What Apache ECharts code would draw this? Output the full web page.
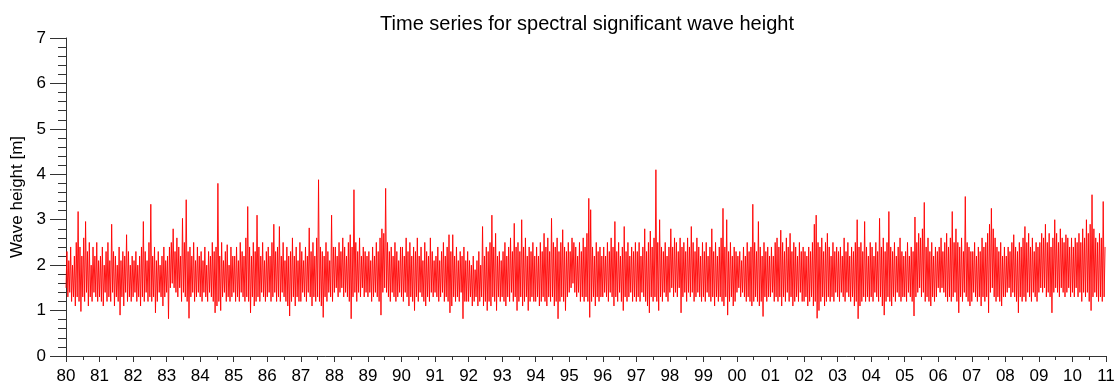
<!DOCTYPE html>
<html>
<head>
<meta charset="utf-8">
<script src="https://cdn.jsdelivr.net/npm/echarts@6/dist/echarts.min.js"></script>
<style>
html,body{margin:0;padding:0;background:#fff;}
#chart{width:1118px;height:387px;}
</style>
</head>
<body>
<div id="chart"></div>
<script>
// Tick labels / axis range
const startYear = 1980;
const endYear = 2011;
const yTicks = [0, 1, 2, 3, 4, 5, 6, 7];

// Significant wave height [m], 36 samples per year
const y1980 = [1.5,2.3,1.3,2.1,1.4,2.4,1.2,2.0,1.3,2.2,1.1,2.5,1.3,3.18,1.2,2.4,0.98,2.2,1.3,2.6,1.2,2.96,1.4,2.3,1.1,2.5,1.3,2.0,1.2,2.4,1.4,2.2,1.3,2.5,1.2,2.1];
const y1981 = [1.3,2.2,1.2,2.4,1.1,2.0,1.4,2.3,1.2,2.5,1.3,2.1,1.2,2.9,1.4,2.3,1.1,2.2,1.3,2.0,1.2,2.4,0.9,2.1,1.3,2.3,1.1,2.2,1.4,2.67,1.2,2.3,1.3,2.0,1.2,2.2];
const y1982 = [1.3,2.1,1.4,2.3,1.2,2.0,1.3,2.2,1.1,2.4,1.3,2.96,1.2,2.3,1.4,2.1,1.2,2.5,1.3,3.34,1.2,2.2,1.3,2.4,0.95,2.1,1.2,2.3,1.4,2.0,1.3,2.2,1.1,2.4,1.3,2.1];
const y1983 = [1.4,2.2,0.82,2.4,1.5,2.5,1.6,2.8,1.5,2.3,1.4,2.6,1.3,2.4,1.5,2.2,1.2,3.03,1.4,2.5,1.3,3.44,1.2,2.3,0.83,2.4,1.3,2.2,1.4,2.5,1.2,2.1,1.3,2.4,1.4,2.2];
const y1984 = [1.3,2.3,1.2,2.1,1.4,2.4,1.3,2.0,1.2,2.3,1.4,2.2,1.3,2.5,1.2,2.3,0.95,2.4,1.1,3.8,1.2,2.2,1.0,2.5,1.3,2.1,1.4,2.3,1.2,2.45,1.3,2.0,1.2,2.4,1.3,2.2];
const y1985 = [1.4,2.2,1.2,2.4,1.3,2.1,1.2,2.5,1.4,2.3,1.3,2.2,1.2,2.6,1.3,3.29,1.2,2.4,0.95,2.2,1.3,2.5,1.1,2.3,1.2,3.1,1.3,2.4,1.2,2.2,1.4,2.5,1.3,2.1,1.2,2.3];
const y1986 = [1.3,2.4,1.4,2.2,1.2,2.5,1.3,2.9,1.4,2.3,1.2,2.4,1.3,2.85,1.2,2.2,1.4,2.5,1.3,2.1,1.2,2.4,1.1,2.2,0.88,2.3,1.2,2.6,1.3,2.2,1.1,2.4,1.3,2.1,1.2,2.5];
const y1987 = [1.2,2.3,1.4,2.1,1.3,2.4,1.2,2.2,1.4,2.82,1.3,2.3,1.1,2.5,1.3,2.2,1.2,2.6,1.3,3.88,1.2,2.4,1.1,2.3,0.85,2.2,1.3,2.5,1.2,2.3,1.4,2.1,1.3,3.1,1.2,2.4];
const y1988 = [1.4,2.4,1.5,2.2,1.3,2.5,1.4,2.3,1.5,2.6,1.3,2.4,1.4,2.2,1.3,2.5,1.2,2.67,0.82,2.4,1.3,3.66,1.4,2.5,1.2,2.3,1.4,2.6,1.3,2.2,1.5,2.4,1.3,2.3,1.4,2.2];
const y1989 = [1.3,2.3,1.4,2.1,1.2,2.4,1.3,2.2,1.4,2.5,1.3,2.3,1.2,2.6,0.9,2.8,1.4,2.7,1.5,3.69,1.4,2.5,1.3,2.3,1.2,2.4,1.4,2.2,1.3,2.5,1.2,2.3,1.3,2.1,1.4,2.4];
const y1990 = [1.3,2.4,1.2,2.2,1.4,2.6,1.3,2.3,1.1,2.5,1.3,2.2,1.2,2.4,1.0,2.3,1.3,2.6,1.2,2.2,1.4,2.4,1.3,2.1,1.2,2.5,1.1,2.3,1.3,2.2,1.2,2.6,1.4,2.3,1.3,2.1];
const y1991 = [1.4,2.2,1.3,2.4,1.2,2.1,1.3,2.3,1.4,2.5,1.2,2.2,1.3,2.4,1.2,2.67,0.95,2.3,1.1,2.67,1.3,2.2,1.2,2.4,1.3,2.1,1.2,2.3,1.4,2.2,0.82,2.4,1.2,2.1,1.2,2.3];
const y1992 = [1.2,2.1,1.3,2.0,1.1,2.2,1.2,1.9,1.3,2.1,1.1,2.3,1.2,2.0,1.3,2.85,1.1,2.2,1.2,2.4,1.0,2.3,1.2,2.5,1.1,3.1,1.3,2.4,1.2,2.7,1.0,2.2,1.3,2.3,1.2,2.1];
const y1993 = [1.3,2.3,1.2,2.5,1.1,2.2,1.3,2.4,1.2,2.6,1.4,2.3,1.2,2.92,1.3,2.4,1.0,2.5,1.2,2.3,1.3,3.0,1.1,2.4,1.2,2.6,1.3,2.2,1.0,2.4,1.2,2.3,1.3,2.5,1.2,2.2];
const y1994 = [1.2,2.4,1.3,2.2,1.1,2.5,1.2,2.3,1.3,2.7,1.2,2.4,1.1,2.6,1.3,2.3,1.2,3.03,1.3,2.5,1.1,2.4,1.2,2.6,0.82,2.3,1.2,2.5,1.3,2.78,1.2,2.4,1.0,2.3,1.3,2.5];
const y1995 = [1.4,2.3,1.5,2.6,1.6,2.5,1.4,2.4,1.3,2.2,1.4,2.5,1.2,2.3,1.3,2.6,1.2,2.4,1.3,2.7,1.2,3.47,0.85,3.22,1.2,2.4,1.3,2.2,1.1,2.5,1.3,2.3,1.2,2.4,1.3,2.2];
const y1996 = [1.3,2.4,1.4,2.2,1.3,2.5,1.2,2.3,1.4,2.6,1.3,2.4,1.1,2.96,1.3,2.3,1.2,2.5,1.4,2.2,1.2,2.4,1.0,2.85,1.3,2.3,1.2,2.5,1.3,2.2,1.4,2.4,1.2,2.3,1.3,2.5];
const y1997 = [1.2,2.3,1.3,2.5,1.2,2.2,1.4,2.4,1.3,2.8,1.2,2.3,1.1,2.5,0.95,2.75,1.3,2.4,1.2,2.6,1.3,4.1,1.2,2.5,1.0,3.0,1.3,2.4,1.2,2.3,1.4,2.5,1.3,2.2,1.2,2.4];
const y1998 = [1.4,2.8,1.5,2.4,1.3,2.6,1.4,2.5,1.3,2.3,1.5,2.6,0.95,2.4,1.3,2.5,1.4,2.3,1.2,2.6,1.4,2.4,1.3,2.85,1.4,2.5,1.2,2.3,1.3,2.6,1.4,2.4,1.3,2.2,1.2,2.5];
const y1999 = [1.3,2.3,1.2,2.5,1.4,2.2,1.3,2.4,1.2,2.8,1.3,2.3,1.1,2.5,1.3,2.2,1.2,2.4,1.3,2.6,1.2,3.25,1.1,2.4,1.3,3.0,0.9,2.3,1.2,2.5,1.3,2.2,1.1,2.4,1.2,2.3];
const y2000 = [1.4,2.2,1.5,2.3,1.3,2.1,1.4,2.4,1.3,2.2,1.2,2.5,1.3,2.3,1.2,2.4,1.1,3.34,1.2,2.5,1.3,2.3,1.2,2.96,1.1,2.4,1.2,2.2,0.87,2.5,1.3,2.3,1.2,2.4,1.3,2.2];
const y2001 = [1.3,2.4,1.4,2.2,1.2,2.5,1.3,2.6,1.2,2.4,1.3,2.77,1.1,2.5,1.3,2.3,1.2,2.6,1.4,2.4,1.2,2.7,1.3,2.3,1.1,2.5,1.2,2.4,1.3,2.2,1.2,2.5,1.4,2.3,1.2,2.4];
const y2002 = [1.2,2.3,1.3,2.2,1.1,2.4,1.2,2.3,1.3,2.5,1.1,2.9,1.2,3.1,0.83,2.5,1.0,2.4,1.2,2.6,1.3,2.3,1.1,2.5,1.2,2.7,1.3,2.4,1.2,2.2,1.3,2.5,1.2,2.3,1.4,2.4];
const y2003 = [1.3,2.3,1.2,2.4,1.4,2.2,1.3,2.6,1.2,2.3,1.4,2.5,1.3,2.2,1.2,2.4,1.3,2.3,1.1,2.5,1.2,3.0,0.82,2.4,1.1,2.5,1.2,2.3,1.3,2.96,1.2,2.4,1.3,2.2,1.2,2.5];
const y2004 = [1.3,2.4,1.2,2.2,1.4,2.5,1.3,2.3,1.2,3.03,1.3,2.4,1.1,2.6,0.9,2.3,1.2,2.5,1.3,3.18,1.2,2.4,1.1,2.3,1.3,2.5,1.2,2.2,1.4,2.4,1.3,2.6,1.2,2.3,1.3,2.2];
const y2005 = [1.3,2.3,1.2,2.5,1.4,2.2,1.3,2.4,1.2,2.3,0.88,3.06,1.3,2.5,1.4,2.7,1.5,2.6,1.3,2.8,1.4,3.38,1.2,2.4,1.3,2.6,1.2,2.3,1.1,2.5,1.3,2.2,1.2,2.4,1.3,2.3];
const y2006 = [1.5,2.4,1.4,2.6,1.5,2.3,1.4,2.5,1.3,2.7,1.2,2.4,1.3,2.6,1.2,3.18,1.3,2.5,1.4,2.8,1.2,2.5,0.95,2.4,1.3,2.6,1.2,2.3,1.4,3.51,1.3,2.5,1.2,2.4,1.1,2.3];
const y2007 = [1.2,2.3,1.4,2.5,1.3,2.2,1.2,2.4,1.3,2.3,1.1,2.6,1.3,2.4,1.2,2.5,1.3,2.7,0.95,2.9,1.4,3.25,1.5,2.8,1.3,2.6,1.2,2.4,1.3,2.3,1.2,2.5,1.1,2.2,1.3,2.4];
const y2008 = [1.3,2.2,1.4,2.4,1.5,2.3,1.3,2.5,1.4,2.67,1.3,2.4,1.2,2.3,0.95,2.5,1.3,2.4,1.2,2.6,1.3,2.85,1.2,2.5,1.4,2.7,1.3,2.4,1.2,2.6,1.4,2.3,1.3,2.5,1.2,2.4];
const y2009 = [1.4,2.5,1.5,2.7,1.4,2.6,1.5,2.9,1.3,2.5,1.4,2.7,1.3,2.4,0.95,2.6,1.4,3.0,1.5,2.7,1.4,2.5,1.3,2.8,1.5,2.6,1.4,2.5,1.3,2.67,1.4,2.6,1.5,2.4,1.3,2.6];
const y2010 = [1.4,2.4,1.3,2.6,1.5,2.5,1.3,2.7,1.4,2.5,1.2,2.8,1.4,2.6,1.3,3.0,1.4,2.7,1.2,2.9,1.0,3.55,1.3,2.8,1.4,2.6,1.3,2.5,1.2,2.7,1.3,2.6,1.2,3.4,1.3,2.4];

const years = [y1980,y1981,y1982,y1983,y1984,y1985,y1986,y1987,y1988,y1989,
               y1990,y1991,y1992,y1993,y1994,y1995,y1996,y1997,y1998,y1999,
               y2000,y2001,y2002,y2003,y2004,y2005,y2006,y2007,y2008,y2009,y2010];

const seriesData = [];
years.forEach((arr, k) => {
  const n = arr.length;
  arr.forEach((v, i) => {
    seriesData.push([startYear + k + i / n, v]);
  });
});

const chart = echarts.init(document.getElementById('chart'), null, {renderer: 'canvas'});
const FONT = '"Liberation Sans", Arial, Helvetica, sans-serif';
const axisColor = '#333';

chart.setOption({
  animation: false,
  backgroundColor: '#fff',
  title: {
    text: 'Time series for spectral significant wave height',
    left: 582,
    top: 9,
    textAlign: 'center',
    textStyle: {fontFamily: FONT, fontSize: 20, fontWeight: 'normal', color: '#000'}
  },
  grid: {left: 66, right: 12, top: 38, bottom: 31, containLabel: false, outerBoundsMode: 'none'},
  xAxis: {
    type: 'value',
    min: startYear,
    max: endYear,
    interval: 1,
    axisLine: {show: true, onZero: false, lineStyle: {color: axisColor, width: 1}},
    axisTick: {show: true, length: 6, lineStyle: {color: axisColor}},
    minorTick: {show: true, splitNumber: 2, length: 4, lineStyle: {color: axisColor}},
    splitLine: {show: false},
    axisLabel: {
      margin: 12,
      color: '#000',
      fontFamily: FONT,
      fontSize: 17,
      formatter: v => String(Math.round(v) % 100).padStart(2, '0')
    }
  },
  yAxis: {
    type: 'value',
    min: yTicks[0],
    max: yTicks[yTicks.length - 1],
    interval: 1,
    name: 'Wave height [m]',
    nameLocation: 'middle',
    nameGap: 39,
    nameTextStyle: {fontFamily: FONT, fontSize: 17, color: '#000'},
    axisLine: {show: true, lineStyle: {color: axisColor, width: 1}},
    axisTick: {show: true, length: 16, lineStyle: {color: axisColor}},
    minorTick: {show: true, splitNumber: 5, length: 8, lineStyle: {color: axisColor}},
    splitLine: {show: false},
    axisLabel: {margin: 20, color: '#000', fontFamily: FONT, fontSize: 17}
  },
  series: [{
    type: 'line',
    data: seriesData,
    showSymbol: false,
    symbol: 'none',
    sampling: null,
    lineStyle: {color: '#ff0000', width: 1, opacity: 0.9},
    z: 2
  }]
});
</script>
</body>
</html>
